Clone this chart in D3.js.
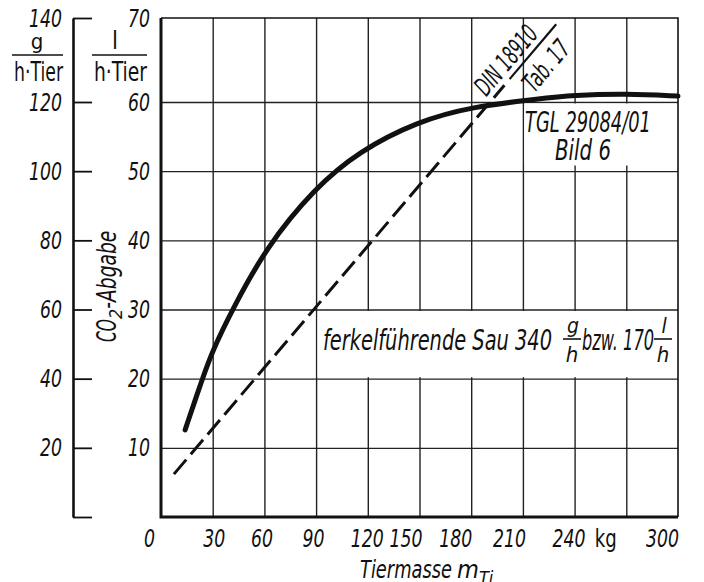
<!DOCTYPE html>
<html>
<head>
<meta charset="utf-8">
<script src="https://cdn.jsdelivr.net/npm/d3@7"></script>
<style>
body { margin: 0; background: #fff; }
svg text {
  font-family: "Liberation Sans Narrow", "DejaVu Sans Condensed", "DejaVu Sans", sans-serif;
  font-stretch: condensed;
  font-style: italic;
  fill: #111;
}
svg text.up { font-style: normal; }
</style>
</head>
<body>
<svg class="chart" width="704" height="582"></svg>
<script>
// CO2-Abgabe je Tier ueber der Tiermasse
var massTicks = [0, 30, 60, 90, 120, 150, 180, 210, 240, 270, 300]
var massLabels = ["0", "30", "60", "90", "120", "150", "180", "210", "240", "kg", "300"]
var literTicks = [10, 20, 30, 40, 50, 60, 70]
var gramTicks = [0, 20, 40, 60, 80, 100, 120, 140]

// TGL 29084/01 Bild 6 (kg , l/(h Tier))
var tglMass = [14, 24, 30, 41, 61, 89, 115, 149, 180, 220, 239, 270, 300]
var tglLiter = [12.6, 20, 24.1, 29.8, 39, 47.5, 52.9, 57.2, 59.3, 60.4, 60.8, 61, 60.7]

// DIN 18910 Tab. 17
var dinMass = [7.5, 90, 191]
var dinLiter = [6.2, 30.3, 60]

// hand lettering under the x axis is not centred on the ticks
var xNudge = [-12, 1, -3, -3, -1, -14, -16, -14, -6, -21, -16]

var ink = "#111"
var digitW = 11
var svg = d3.select(".chart")

var x = d3.scaleLinear().domain([0, 300]).range([161, 678])
// the top cell of the original is drawn taller than the others
var y = d3.scaleLinear().domain([0, 60, 70]).range([517, 102, 18])
var yg = d3.scaleLinear().domain([0, 120, 140]).range([517, 102, 18])

function narrow(sel) {
  sel.attr("textLength", function() { return this.textContent.length * digitW })
    .attr("lengthAdjust", "spacingAndGlyphs")
}

// grid
svg.append("g")
  .attr("transform", "translate(0," + y(0) + ")")
  .call(d3.axisBottom(x).tickValues(massTicks.slice(1, -1)).tickSizeInner(-(y(0) - y(70))).tickFormat(""))
  .call(g => g.select(".domain").remove())
  .selectAll("line").attr("stroke", "#222").attr("stroke-width", 1.4)

svg.append("g")
  .attr("transform", "translate(" + x(0) + ",0)")
  .call(d3.axisLeft(y).tickValues(literTicks.slice(0, -1)).tickSizeInner(-(x(300) - x(0))).tickFormat(""))
  .call(g => g.select(".domain").remove())
  .selectAll("line").attr("stroke", "#222").attr("stroke-width", 1.4)

// white boxes behind the lettering
svg.append("rect").attr("x", x(210) + 1.5).attr("y", y(60) + 1.5)
  .attr("width", x(300) - x(210) - 3).attr("height", 62).attr("fill", "#fff")
svg.append("rect").attr("x", x(90) + 1.5).attr("y", y(30) + 1.5)
  .attr("width", x(300) - x(90) - 3).attr("height", y(20) - y(30) - 3).attr("fill", "#fff")

// frame
svg.append("path")
  .attr("d", "M" + x(0) + "," + y(70) + "H" + x(300) + "V" + y(0))
  .attr("fill", "none").attr("stroke", ink).attr("stroke-width", 1.6)
svg.append("path")
  .attr("d", "M" + x(0) + "," + y(70) + "V" + y(0) + "H" + x(300))
  .attr("fill", "none").attr("stroke", ink).attr("stroke-width", 3)

// l/(h Tier) labels
svg.append("g")
  .attr("transform", "translate(" + x(0) + ",0)")
  .call(d3.axisLeft(y).tickValues(literTicks).tickSize(0).tickPadding(11))
  .call(g => g.select(".domain").remove())
  .attr("font-size", 25).attr("font-family", null)
  .selectAll("text").call(narrow)

// g/(h Tier) axis
var ga = svg.append("g")
  .attr("transform", "translate(73,0)")
  .call(d3.axisLeft(yg).tickValues(gramTicks).tickSizeInner(-19).tickSizeOuter(0).tickPadding(11)
    .tickFormat(function(d) { return d ? d : "" }))
  .attr("font-size", 25).attr("font-family", null)
ga.select(".domain").attr("stroke", ink).attr("stroke-width", 2.6)
ga.selectAll("line").attr("stroke", ink).attr("stroke-width", 1.8)
ga.selectAll("text").call(narrow)

// x labels
var xa = svg.append("g")
  .attr("transform", "translate(0," + y(0) + ")")
  .call(d3.axisBottom(x).tickValues(massTicks).tickSize(0).tickPadding(12)
    .tickFormat(function(d, i) { return massLabels[i] }))
  .attr("font-size", 25).attr("font-family", null)
xa.select(".domain").remove()
xa.selectAll("text").call(narrow)
  .attr("dx", function(d, i) { return xNudge[i] })
  .classed("up", function(d) { return d == 270 })

// units
function unitLabel(cx, bar, top, topSize) {
  svg.append("text").attr("class", "up").attr("x", cx).attr("y", 49)
    .attr("text-anchor", "middle").attr("font-size", topSize).text(top)
  svg.append("line").attr("x1", bar[0]).attr("x2", bar[1]).attr("y1", 55).attr("y2", 55)
    .attr("stroke", ink).attr("stroke-width", 1.6)
  svg.append("text").attr("class", "up").attr("x", (bar[0] + bar[1]) / 2 + 1).attr("y", 81)
    .attr("text-anchor", "middle").attr("font-size", 26)
    .attr("textLength", bar[1] - bar[0] - 2).attr("lengthAdjust", "spacingAndGlyphs")
    .text("h·Tier")
}
unitLabel(37, [12, 63], "g", 22)
unitLabel(115, [92, 147], "l", 24)

// axis titles
var yt = svg.append("text")
  .attr("transform", "translate(116,342) rotate(-90)")
  .attr("font-size", 26)
yt.append("tspan").attr("textLength", 23).attr("lengthAdjust", "spacingAndGlyphs").text("CO")
yt.append("tspan").attr("dy", 6).attr("font-size", 18).text("2")
yt.append("tspan").attr("dy", -6).attr("textLength", 78).attr("lengthAdjust", "spacingAndGlyphs").text("-Abgabe")

var xt = svg.append("text").attr("x", 360).attr("y", 578).attr("font-size", 25)
xt.append("tspan").attr("textLength", 92).attr("lengthAdjust", "spacingAndGlyphs").text("Tiermasse")
xt.append("tspan").attr("dx", 5).text("m")
xt.append("tspan").attr("dy", 6).attr("font-size", 18).text("Ti")

// curves
var tgl = tglMass.map(function(d, i) { return [d, tglLiter[i]] })
var line = d3.line()
  .x(function(d) { return x(d[0]) })
  .y(function(d) { return y(d[1]) })
  .curve(d3.curveBasis)

svg.append("path").datum(tgl)
  .attr("d", line)
  .attr("fill", "none").attr("stroke", ink).attr("stroke-width", 5).attr("stroke-linecap", "round")

var p0 = [x(dinMass[0]), y(dinLiter[0])]
var p1 = [x(dinMass[dinMass.length - 1]), y(dinLiter[dinLiter.length - 1])]
var len = Math.hypot(p1[0] - p0[0], p1[1] - p0[1])
var u = [(p1[0] - p0[0]) / len, (p1[1] - p0[1]) / len]
var n = [u[1], -u[0]]
var ang = Math.atan2(u[1], u[0]) * 180 / Math.PI
function along(a, b) { return [p1[0] + a * u[0] + b * n[0], p1[1] + a * u[1] + b * n[1]] }

svg.append("path")
  .attr("d", d3.line()([p0, along(22, 0)]))
  .attr("fill", "none").attr("stroke", ink).attr("stroke-width", 3)
  .attr("stroke-dasharray", "19,7")

svg.append("path")
  .attr("d", d3.line()([along(30, 0), along(102, 0)]))
  .attr("stroke", ink).attr("stroke-width", 2.2)

var dinPos = along(42, 15)
svg.append("text")
  .attr("transform", "translate(" + dinPos + ") rotate(" + ang + ")")
  .attr("text-anchor", "middle").attr("dominant-baseline", "central")
  .attr("font-size", 26).attr("textLength", 82).attr("lengthAdjust", "spacingAndGlyphs")
  .text("DIN 18910")
var tabPos = along(64, -19)
svg.append("text")
  .attr("transform", "translate(" + tabPos + ") rotate(" + ang + ")")
  .attr("text-anchor", "middle").attr("dominant-baseline", "central")
  .attr("font-size", 26).attr("textLength", 58).attr("lengthAdjust", "spacingAndGlyphs")
  .text("Tab. 17")

// lettering in the boxes
svg.append("text").attr("x", 588).attr("y", 132).attr("text-anchor", "middle")
  .attr("font-size", 28).attr("textLength", 126).attr("lengthAdjust", "spacingAndGlyphs")
  .text("TGL 29084/01")
svg.append("text").attr("x", 583).attr("y", 160).attr("text-anchor", "middle")
  .attr("font-size", 28).attr("textLength", 56).attr("lengthAdjust", "spacingAndGlyphs")
  .text("Bild 6")

svg.append("text").attr("x", 323).attr("y", 350)
  .attr("font-size", 28).attr("textLength", 229).attr("lengthAdjust", "spacingAndGlyphs")
  .text("ferkelführende Sau 340")
svg.append("text").attr("x", 582).attr("y", 350)
  .attr("font-size", 28).attr("textLength", 72).attr("lengthAdjust", "spacingAndGlyphs")
  .text("bzw. 170")

function fraction(cx, top) {
  svg.append("text").attr("x", cx + 1).attr("y", 333).attr("text-anchor", "middle")
    .attr("font-size", 21).text(top)
  svg.append("line").attr("x1", cx - 9).attr("x2", cx + 9).attr("y1", 339).attr("y2", 339)
    .attr("stroke", ink).attr("stroke-width", 1.6)
  svg.append("text").attr("x", cx).attr("y", 362).attr("text-anchor", "middle")
    .attr("font-size", 22).text("h")
}
fraction(572, "g")
fraction(663, "l")
</script>
</body>
</html>
